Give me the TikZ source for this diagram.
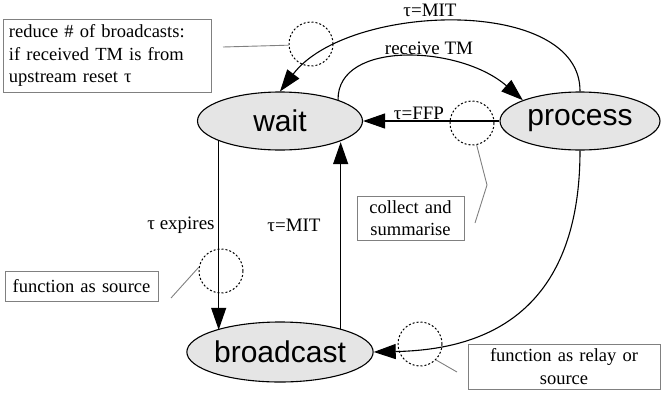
\documentclass[tikz,border=0pt]{standalone}
\usepackage{fontspec}
\setmainfont{Liberation Serif}
\newfontfamily\nodefont{Liberation Sans}
\usetikzlibrary{shapes.geometric,arrows.meta}
\begin{document}
\begin{tikzpicture}[x=1pt,y=-1pt,
 state/.style={ellipse,draw,line width=1.1pt,fill=black!10,inner sep=0,
   minimum width=165pt,minimum height=58pt,font=\nodefont\fontsize{30}{36}\selectfont},
 edge/.style={line width=1.1pt,-{Triangle[length=22pt,width=15pt]}},
 lbl/.style={font=\fontsize{19}{23}\selectfont,inner sep=0},
 note/.style={draw=black!50,line width=0.9pt,font=\fontsize{18.5}{22.5}\selectfont,
   inner xsep=6pt,inner ysep=0pt},
 ring/.style={circle,draw,dash pattern=on 2pt off 2pt,line width=1pt,minimum size=44pt,inner sep=0},
 leader/.style={draw=black!50,line width=0.9pt}]
\useasboundingbox (0,0) rectangle (661,394);

% states
\node[state] (wait) at (280,121) {wait};
\node[state,minimum width=160pt] (process) at (580,121) {process};
\node[state,minimum height=60pt] (broadcast) at (280,352) {broadcast};

% transitions
\draw[edge] (process.north) .. controls (581,-4) and (348,2) .. (wait.north);
\draw[edge] (wait.20) .. controls (337,40) and (460,45) .. (process.160);
\draw[edge] (process.west) -- (wait.east);
\draw[edge] (wait.198) -- (wait.198 |- broadcast.161);
\draw[edge] (broadcast.21) -- (broadcast.21 |- wait.340);
\draw[edge] (process.south) .. controls (580,325) and (470,350) .. (broadcast.east);

% labels
\node[lbl] (lmit) at (430,10) {τ=MIT};
\node[lbl] (lrec) at (429,48) {receive TM};
\node[lbl] (lffp) at (419,113) {τ=FFP};
\node[lbl] (lexp) at (181,225) {τ expires};
\node[lbl] (lmit2) at (294,225) {τ=MIT};

% dotted rings
\node[ring] (cA) at (311,44) {};
\node[ring] (cB) at (472,123) {};
\node[ring] (cC) at (221,271) {};
\node[ring] (cD) at (420,344) {};

% notes
\node[note,text width=196pt,align=left,minimum height=73pt] (nA) at (107,55.5)
  {reduce \# of broadcasts:\\if received TM is from\\upstream reset τ};
\node[note,text width=95pt,align=center,minimum height=44pt] (nB) at (410.5,218)
  {collect and\\summarise};
\node[note,text width=141pt,align=center,minimum height=30pt] (nC) at (81.5,286)
  {function as source};
\node[note,text width=180pt,align=center,minimum height=45pt] (nD) at (564,366.5)
  {function as relay or\\source};

% leaders
\coordinate (eA) at (223,47);
\coordinate (kB) at (487,185);
\coordinate (eB) at (475,223);
\coordinate (eC) at (171,298);
\coordinate (eD) at (457,372);
\draw[leader] (eA) -- (cA.183);
\draw[leader] (cB.-78) -- (kB) -- (eB);
\draw[leader] (eC) -- (cC.170);
\draw[leader] (cD.-45) -- (eD);
\end{tikzpicture}
\end{document}
